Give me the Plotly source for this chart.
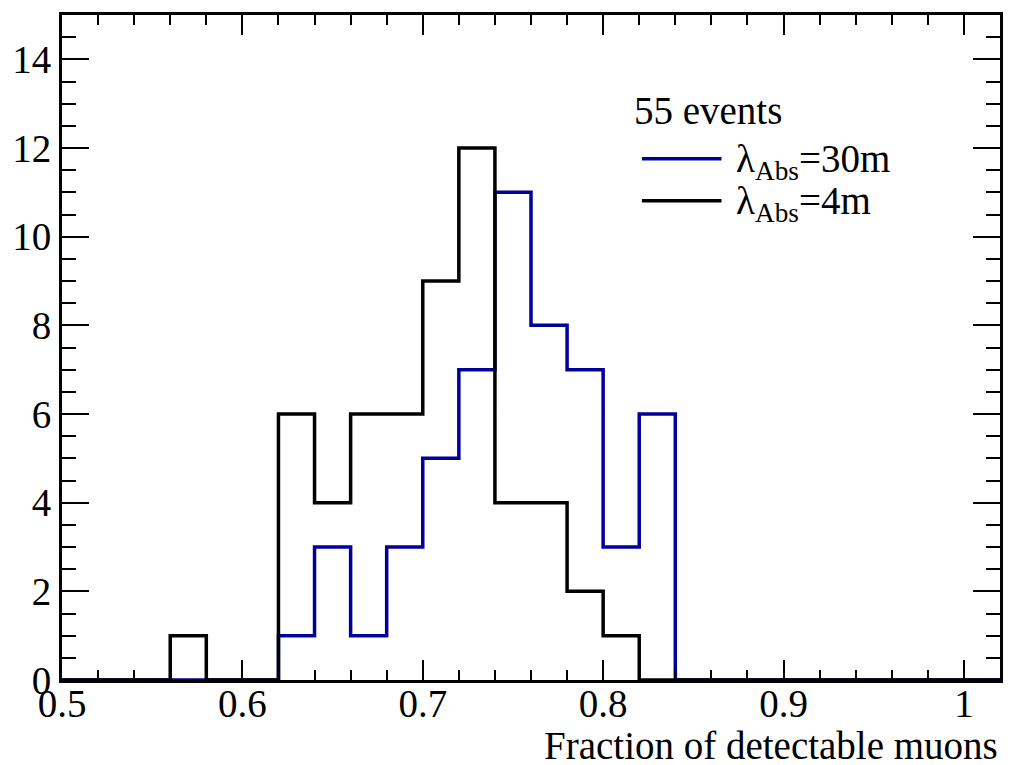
import plotly.graph_objects as go

bin_edges = [round(0.50 + 0.02 * i, 2) for i in range(27)]  # 0.50 ... 1.02
counts_30m = [0, 0, 0, 0, 0, 0, 1, 3, 1, 3, 5, 7, 11, 8, 7, 3, 6, 0, 0, 0, 0, 0, 0, 0, 0, 0]
counts_4m = [0, 0, 0, 1, 0, 0, 6, 4, 6, 6, 9, 12, 4, 4, 2, 1, 0, 0, 0, 0, 0, 0, 0, 0, 0, 0]
legend_title = "55 events"
label_30m = "λ<sub>Abs</sub>=30m"
label_4m = "λ<sub>Abs</sub>=4m"
x_title = "Fraction of detectable muons"

FONT = "Liberation Serif"
BLUE = "#000099"

fig = go.Figure()
for counts, color in [(counts_30m, BLUE), (counts_4m, "black")]:
    fig.add_trace(go.Scatter(
        x=bin_edges, y=counts + [counts[-1]],
        mode="lines", line=dict(color=color, width=3.5, shape="hv"),
        showlegend=False, hoverinfo="skip"))

axis_common = dict(
    showline=True, linecolor="black", linewidth=3, mirror="allticks",
    ticks="inside", tickcolor="black", tickwidth=2,
    showgrid=False, zeroline=False,
    tickfont=dict(family=FONT, size=39, color="black"),
)
fig.update_xaxes(range=[0.5, 1.02], ticklen=20,
                 tickvals=[0.5, 0.6, 0.7, 0.8, 0.9, 1.0],
                 ticktext=["0.5", "0.6", "0.7", "0.8", "0.9", "1"],
                 ticklabelstandoff=-13,
                 minor=dict(dtick=0.02, tick0=0.5, ticklen=10, tickwidth=2,
                            tickcolor="black", ticks="inside", showgrid=False),
                 **axis_common)
fig.update_yaxes(range=[0, 15], tick0=0, dtick=2, ticklen=27,
                 minor=dict(dtick=0.5, tick0=0, ticklen=14, tickwidth=2,
                            tickcolor="black", ticks="inside", showgrid=False),
                 **axis_common)

# axis title, right aligned
fig.add_annotation(text=x_title, xref="paper", yref="paper", x=1.0, y=0,
                   xanchor="right", yanchor="top", yshift=-42, showarrow=False,
                   font=dict(family=FONT, size=39, color="black"))

# legend drawn by hand (ROOT-like)
W, H = 1022, 765
L, R, T, B = 57, 22, 14, 85
pw, ph = W - L - R, H - T - B
def px(x):
    return (x - L) / pw
def py(y):
    return (H - B - y) / ph

fig.add_annotation(text=legend_title, xref="paper", yref="paper", x=px(630), y=py(110),
                   xanchor="left", yanchor="middle", showarrow=False,
                   font=dict(family=FONT, size=39, color="black"))
for label, color, ly in [(label_30m, BLUE, 158), (label_4m, "black", 200)]:
    fig.add_shape(type="line", xref="paper", yref="paper",
                  x0=px(640), x1=px(720), y0=py(ly), y1=py(ly),
                  line=dict(color=color, width=3.5))
    fig.add_annotation(text=label, xref="paper", yref="paper", x=px(733), y=py(ly + 3),
                       xanchor="left", yanchor="middle", showarrow=False,
                       font=dict(family=FONT, size=39, color="black"))

fig.update_layout(width=W, height=H, margin=dict(l=L, r=R, t=T, b=B),
                  plot_bgcolor="white", paper_bgcolor="white")
fig.write_html("out.html")
